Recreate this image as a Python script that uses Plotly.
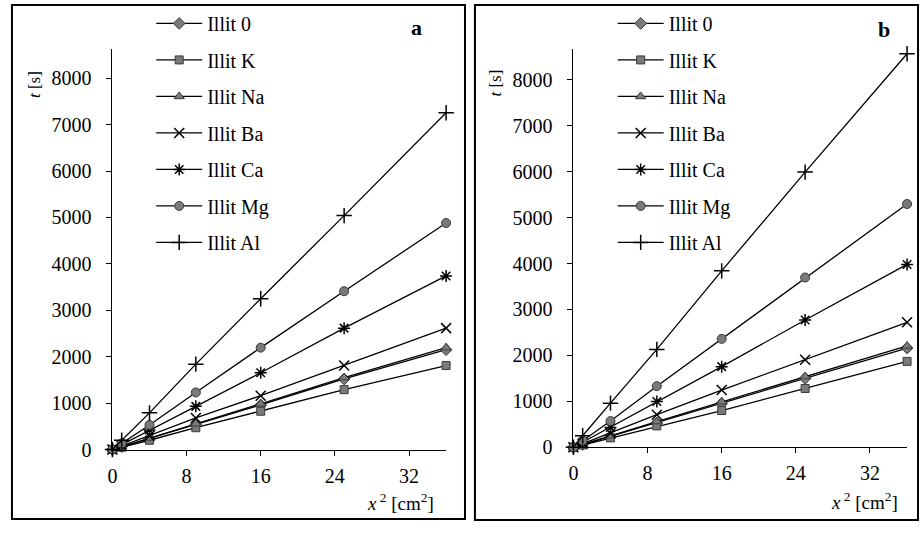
import plotly.graph_objects as go

# ---------------- data ----------------
x2 = [0, 1, 4, 9, 16, 25, 36]
series_names = ["Illit 0", "Illit K", "Illit Na", "Illit Ba", "Illit Ca", "Illit Mg", "Illit Al"]

a_illit0 = [0, 60, 240, 540, 960, 1520, 2150]
a_illitK = [0, 50, 200, 470, 825, 1290, 1810]
a_illitNa = [0, 60, 250, 555, 985, 1550, 2195]
a_illitBa = [0, 75, 300, 680, 1160, 1810, 2615]
a_illitCa = [0, 105, 420, 930, 1655, 2615, 3740]
a_illitMg = [0, 135, 530, 1230, 2195, 3410, 4880]
a_illitAl = [0, 200, 790, 1840, 3250, 5040, 7255]

b_illit0 = [0, 60, 240, 530, 955, 1500, 2160]
b_illitK = [0, 50, 205, 465, 800, 1280, 1870]
b_illitNa = [0, 60, 250, 560, 990, 1540, 2205]
b_illitBa = [0, 80, 305, 710, 1245, 1905, 2720]
b_illitCa = [0, 110, 430, 995, 1755, 2770, 3980]
b_illitMg = [0, 145, 570, 1330, 2360, 3695, 5295]
b_illitAl = [0, 250, 960, 2130, 3840, 5990, 8565]

x_ticks = [0, 8, 16, 24, 32]
y_ticks = [0, 1000, 2000, 3000, 4000, 5000, 6000, 7000, 8000]

panel_a = [a_illit0, a_illitK, a_illitNa, a_illitBa, a_illitCa, a_illitMg, a_illitAl]
panel_b = [b_illit0, b_illitK, b_illitNa, b_illitBa, b_illitCa, b_illitMg, b_illitAl]

# ---------------- styles ----------------
W, H = 921, 533
FONT = "Liberation Serif"
FS = 20
GRAY = "#7a7a7a"
EDGE = "#3a3a3a"
marker_styles = [
    dict(symbol="diamond", size=9, color=GRAY, line=dict(color=EDGE, width=1)),
    dict(symbol="square", size=8, color=GRAY, line=dict(color=EDGE, width=1)),
    dict(symbol="triangle-up", size=9, color=GRAY, line=dict(color=EDGE, width=1)),
    dict(symbol="x-thin-open", size=10, color="black", line=dict(color="black", width=1.5)),
    dict(symbol="asterisk-open", size=10, color="black", line=dict(color="black", width=1.5)),
    dict(symbol="circle", size=9, color=GRAY, line=dict(color=EDGE, width=1)),
    dict(symbol="cross-thin-open", size=11, color="black", line=dict(color="black", width=1.5)),
]

fig = go.Figure()

for name, ys, ms in zip(series_names, panel_a, marker_styles):
    fig.add_trace(go.Scatter(
        x=x2, y=ys, name=name, mode="lines+markers",
        line=dict(color="black", width=1.3), marker=ms,
        xaxis="x", yaxis="y", legend="legend", legendgroup="a" + name,
        cliponaxis=False,
    ))
for name, ys, ms in zip(series_names, panel_b, marker_styles):
    fig.add_trace(go.Scatter(
        x=x2, y=ys, name=name, mode="lines+markers",
        line=dict(color="black", width=1.3), marker=ms,
        xaxis="x2", yaxis="y2", legend="legend2", legendgroup="b" + name,
        cliponaxis=False,
    ))

def px_x(p):
    return p / W

def px_y(p):
    return 1 - p / H

axis_common = dict(
    showgrid=False, zeroline=False, showline=True, linecolor="black", linewidth=1,
    ticks="outside", ticklen=5, tickcolor="black", tickwidth=1,
    tickfont=dict(family=FONT, size=FS, color="black"),
)

fig.update_layout(
    width=W, height=H,
    margin=dict(l=0, r=0, t=0, b=0),
    paper_bgcolor="white", plot_bgcolor="white",
    font=dict(family=FONT, size=FS, color="black"),
    xaxis=dict(domain=[px_x(108), px_x(443.5)], range=[0, 36], tickvals=x_ticks,
               anchor="y", ticklabelstandoff=3, **axis_common),
    yaxis=dict(domain=[px_y(459), px_y(50)], range=[0, 8630], tickvals=y_ticks,
               anchor="x", ticklabelstandoff=11, **axis_common),
    xaxis2=dict(domain=[px_x(571.5), px_x(907)], range=[0, 36], tickvals=x_ticks,
                anchor="y2", ticklabelstandoff=3, **axis_common),
    yaxis2=dict(domain=[px_y(456.7), px_y(50)], range=[0, 8670], tickvals=y_ticks,
                anchor="x2", ticklabelstandoff=11, **axis_common),
    legend=dict(x=px_x(147), y=px_y(4), xanchor="left", yanchor="top",
                bgcolor="rgba(0,0,0,0)", font=dict(family=FONT, size=FS),
                traceorder="grouped", tracegroupgap=7.5, itemwidth=46),
    legend2=dict(x=px_x(611), y=px_y(4), xanchor="left", yanchor="top",
                 bgcolor="rgba(0,0,0,0)", font=dict(family=FONT, size=FS),
                 traceorder="grouped", tracegroupgap=7.5, itemwidth=46),
    showlegend=True,
)

# panel frames
fig.add_shape(type="rect", xref="paper", yref="paper",
              x0=px_x(7), x1=px_x(462.5), y0=px_y(530), y1=px_y(5),
              line=dict(color="black", width=2), layer="below")
fig.add_shape(type="rect", xref="paper", yref="paper",
              x0=px_x(472.5), x1=px_x(918), y0=px_y(531), y1=px_y(5),
              line=dict(color="black", width=2), layer="below")

ann = [
    dict(x=px_x(414), y=px_y(28), text="<b>a</b>", size=22),
    dict(x=px_x(884), y=px_y(30), text="<b>b</b>", size=22),
    dict(x=px_x(398), y=px_y(513), text="<i>x</i><sup> 2</sup> [cm<sup>2</sup>]", size=19),
    dict(x=px_x(864), y=px_y(512), text="<i>x</i><sup> 2</sup> [cm<sup>2</sup>]", size=19),
]
for a in ann:
    fig.add_annotation(x=a["x"], y=a["y"], xref="paper", yref="paper", text=a["text"],
                       showarrow=False, xanchor="center", yanchor="middle",
                       font=dict(family=FONT, size=a["size"], color="black"))
for xp, yp in [(29, 86), (493, 85)]:
    fig.add_annotation(x=px_x(xp), y=px_y(yp), xref="paper", yref="paper",
                       text="<i>t</i> [s]", textangle=-90, showarrow=False,
                       xanchor="center", yanchor="middle",
                       font=dict(family=FONT, size=17, color="black"))

fig.write_html("out.html")
